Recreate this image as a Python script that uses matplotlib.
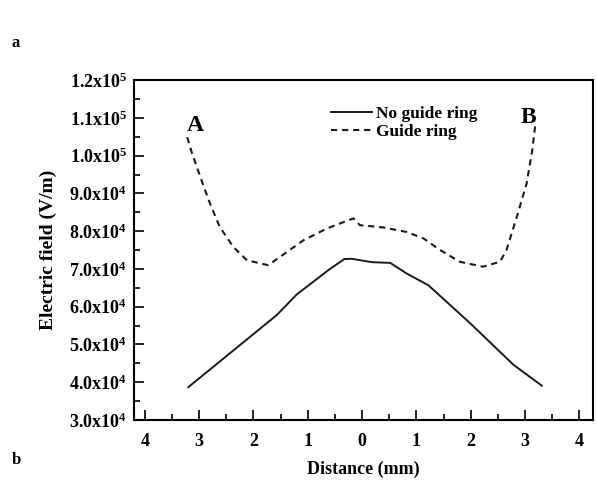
import numpy as np
import matplotlib
matplotlib.use('Agg')
import matplotlib.pyplot as plt
from matplotlib.ticker import FuncFormatter, MultipleLocator

# positions along the gap (mm), signed; labels shown as absolute values
dist_no_ring = [-3.20, -1.57, -1.20, -0.90, -0.62, -0.33, -0.19, 0.18, 0.52, 0.82, 1.22, 2.00, 2.79, 3.31]
field_no_ring = [3.87e4, 5.78e4, 6.33e4, 6.66e4, 6.97e4, 7.26e4, 7.27e4, 7.18e4, 7.16e4, 6.88e4, 6.57e4, 5.55e4, 4.46e4, 3.91e4]

dist_ring = [-3.22, -3.14, -2.98, -2.80, -2.62, -2.37, -2.12, -1.73, -1.51, -1.08, -0.65, -0.16, -0.04,
             0.39, 0.82, 1.13, 1.44, 1.80, 2.23, 2.54, 2.66, 2.85, 3.03, 3.13, 3.19]
field_ring = [10.49e4, 10.10e4, 9.44e4, 8.73e4, 8.11e4, 7.58e4, 7.23e4, 7.10e4, 7.32e4, 7.76e4, 8.07e4, 8.34e4, 8.16e4,
              8.10e4, 7.98e4, 7.81e4, 7.50e4, 7.19e4, 7.06e4, 7.19e4, 7.50e4, 8.38e4, 9.26e4, 10.10e4, 10.80e4]

series_labels = ['No guide ring', 'Guide ring']
end_labels = ['A', 'B']

plt.rcParams['font.family'] = 'Liberation Serif'
plt.rcParams['font.weight'] = 'bold'
plt.rcParams['mathtext.fontset'] = 'custom'
plt.rcParams['mathtext.rm'] = 'Liberation Serif:bold'
plt.rcParams['mathtext.bf'] = 'Liberation Serif:bold'
plt.rcParams['mathtext.it'] = 'Liberation Serif:bold'

fig = plt.figure(figsize=(5.97, 4.8), dpi=100)
ax = fig.add_axes([0.2245, 0.125, 0.7685, 0.708])

ax.plot(dist_no_ring, field_no_ring, color='#1a1a1a', lw=1.4, label=series_labels[0])
ax.plot(dist_ring, field_ring, color='#1a1a1a', lw=1.5, linestyle=(0, (3, 2.3)), label=series_labels[1])

ax.set_xlim(-4.2, 4.25)
ax.set_ylim(3.0e4, 1.2e5)

ax.xaxis.set_major_locator(MultipleLocator(1))
ax.xaxis.set_minor_locator(MultipleLocator(0.5))
ax.yaxis.set_major_locator(MultipleLocator(1e4))
ax.yaxis.set_minor_locator(MultipleLocator(5e3))

ax.xaxis.set_major_formatter(FuncFormatter(lambda v, p: '%d' % abs(round(v))))

def sci_label(v, p):
    e = int(np.floor(np.log10(v)))
    m = v / 10 ** e
    return r'$\mathbf{%.1fx10^{%d}}$' % (m, e)

ax.yaxis.set_major_formatter(FuncFormatter(sci_label))

ax.tick_params(which='both', direction='in', top=False, right=False, labelsize=13, width=1.2)
ax.tick_params(which='major', length=7, pad=5)
ax.tick_params(which='minor', length=4)
ax.tick_params(axis='x', which='major', pad=9)
for s in ax.spines.values():
    s.set_linewidth(1.5)

ax.set_xlabel('Distance (mm)', fontsize=13, fontweight='bold', labelpad=8)
ax.set_ylabel('Electric field (V/m)', fontsize=14, fontweight='bold', labelpad=9)

ax.text(-3.08, 10.8e4, end_labels[0], fontsize=17, fontweight='bold', ha='center', va='center')
ax.text(3.06, 11.0e4, end_labels[1], fontsize=17, fontweight='bold', ha='center', va='center')

ax.legend(loc='upper left', bbox_to_anchor=(0.41, 0.95), frameon=False, fontsize=12.5,
          handlelength=2.4, handletextpad=0.2, labelspacing=0.1, borderpad=0)

fig.text(0.02, 0.91, 'a', fontsize=12, fontweight='bold', ha='left', va='center')
fig.text(0.02, 0.042, 'b', fontsize=12, fontweight='bold', ha='left', va='center')

fig.savefig('out.png', dpi=100)
